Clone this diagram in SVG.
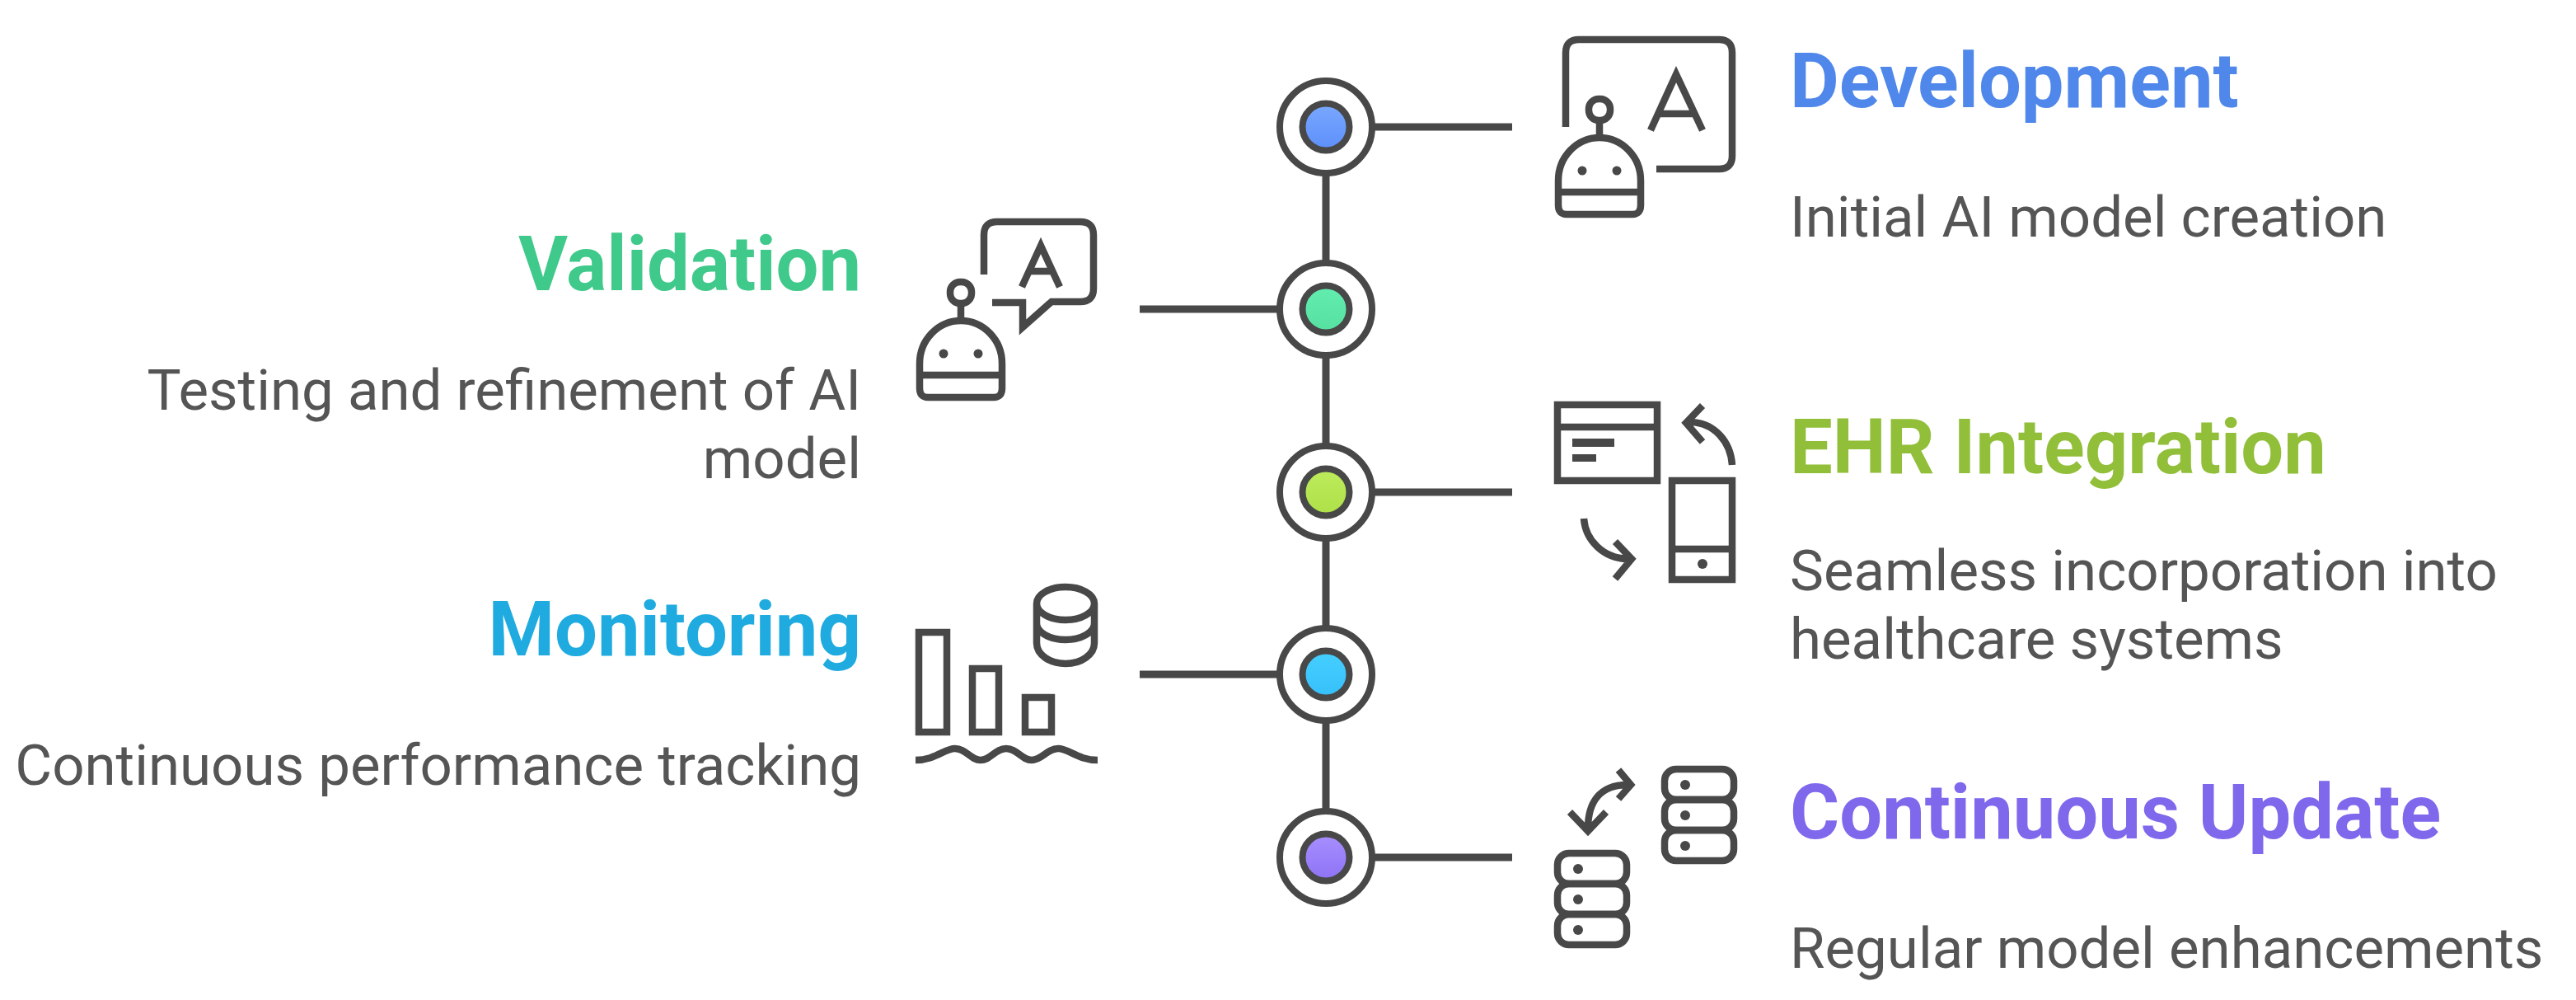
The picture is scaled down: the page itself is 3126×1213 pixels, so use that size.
<svg xmlns="http://www.w3.org/2000/svg" width="3126" height="1213" viewBox="0 0 3126 1213">
<style>
.l{fill:none;stroke:#484848;stroke-width:8.5}
.c{stroke:#484848;stroke-width:9;fill:none}
.ring{fill:#fff;stroke:#484848;stroke-width:8}
.dot{stroke:#484848;stroke-width:8}
.d{fill:#484848}
.t{font-family:Roboto,"Liberation Sans",sans-serif;font-weight:700;font-size:92px}
.b{font-family:Roboto,"Liberation Sans",sans-serif;font-weight:400;font-size:69px;fill:#555}
.e{text-anchor:end}
</style>
<defs>
<linearGradient id="g1" x1="0" y1="0" x2="0" y2="1"><stop offset="0" stop-color="#7aa8ff"/><stop offset="1" stop-color="#5c8ffa"/></linearGradient>
<linearGradient id="g2" x1="0" y1="0" x2="0" y2="1"><stop offset="0" stop-color="#62eeb0"/><stop offset="1" stop-color="#56e0a0"/></linearGradient>
<linearGradient id="g3" x1="0" y1="0" x2="0" y2="1"><stop offset="0" stop-color="#bdec5c"/><stop offset="1" stop-color="#aee048"/></linearGradient>
<linearGradient id="g4" x1="0" y1="0" x2="0" y2="1"><stop offset="0" stop-color="#45cfff"/><stop offset="1" stop-color="#36c0fa"/></linearGradient>
<linearGradient id="g5" x1="0" y1="0" x2="0" y2="1"><stop offset="0" stop-color="#a78fff"/><stop offset="1" stop-color="#8e72f5"/></linearGradient>
<g id="robot">
<rect class="l" x="-13" y="-13" width="26" height="26" rx="12"/>
<path class="l" d="M0 13V34"/>
<path class="l" d="M-50 116V86A50 52 0 0 1 50 86V116Q50 127 40 127H-40Q-50 127-50 116Z"/>
<path class="l" d="M-50 100H50"/>
<circle class="d" cx="-21" cy="74" r="5.5"/><circle class="d" cx="21" cy="74" r="5.5"/>
</g>
<g id="stack">
<rect class="l" x="0" y="0" width="84" height="37" rx="14"/>
<rect class="l" x="0" y="37" width="84" height="37" rx="14"/>
<rect class="l" x="0" y="74" width="84" height="37" rx="14"/>
<circle class="d" cx="25" cy="19" r="6"/><circle class="d" cx="25" cy="56" r="6"/><circle class="d" cx="25" cy="93" r="6"/>
</g>
</defs>
<rect width="3126" height="1213" fill="#fff"/>
<g id="connectors">
<path class="c" d="M1609 154V1040"/>
<path class="c" d="M1609 154H1835"/>
<path class="c" d="M1383 375H1609"/>
<path class="c" d="M1609 597H1835"/>
<path class="c" d="M1383 818H1609"/>
<path class="c" d="M1609 1040H1835"/>
</g>
<g id="node-development">
<circle class="ring" cx="1609" cy="154" r="56"/><circle class="dot" cx="1609" cy="154" r="28.5" fill="url(#g1)"/>
<path class="l" d="M1900 154V64Q1900 48 1916 48H2086Q2102 48 2102 64V189Q2102 205 2086 205H2010"/>
<path class="l" d="M2003 158L2034 90L2066 158M2014 138H2056"/>
<use href="#robot" x="1941" y="133"/>
<text class="t" x="2172" y="130" fill="#4f87ea">Development</text>
<text class="b" x="2172" y="287">Initial AI model creation</text>
</g>
<g id="node-validation">
<circle class="ring" cx="1609" cy="375" r="56"/><circle class="dot" cx="1609" cy="375" r="28.5" fill="url(#g2)"/>
<path class="l" d="M1194 333V285Q1194 269 1210 269H1311Q1327 269 1327 285V350Q1327 366 1311 366H1276L1241 397V367H1204"/>
<path class="l" d="M1240 348L1263 298L1286 348M1246 329H1280"/>
<use href="#robot" x="1166" y="355"/>
<text class="t e" x="1045" y="352" fill="#3fc98a">Validation</text>
<text class="b e" x="1045" y="497">Testing and refinement of AI</text>
<text class="b e" x="1045" y="580">model</text>
</g>
<g id="node-ehr">
<circle class="ring" cx="1609" cy="597" r="56"/><circle class="dot" cx="1609" cy="597" r="28.5" fill="url(#g3)"/>
<rect class="l" x="1890" y="491" width="121" height="92"/>
<path class="l" d="M1890 518H2011"/>
<rect class="d" x="1908" y="532" width="51" height="10"/><rect class="d" x="1908" y="551" width="29" height="9"/>
<rect class="l" x="2029" y="583" width="73" height="120"/>
<path class="l" d="M2029 666H2102"/>
<circle class="d" cx="2066" cy="684" r="6"/>
<path class="l" d="M2102 564C2100 535 2080 513 2052 512M2066 492L2046 513L2066 536"/>
<path class="l" d="M1922 629C1924 655 1945 677 1975 678M1960 657L1980 678L1960 702"/>
<text class="t" x="2172" y="574" fill="#92bf3a">EHR Integration</text>
<text class="b" x="2172" y="716">Seamless incorporation into</text>
<text class="b" x="2172" y="799">healthcare systems</text>
</g>
<g id="node-monitoring">
<circle class="ring" cx="1609" cy="818" r="56"/><circle class="dot" cx="1609" cy="818" r="28.5" fill="url(#g4)"/>
<rect class="l" x="1115" y="767" width="34" height="121"/>
<rect class="l" x="1180" y="811" width="32" height="77"/>
<rect class="l" x="1244" y="846" width="32" height="42"/>
<path class="l" d="M1111 922C1135 922 1146 908 1159 908C1172 908 1178 922 1190 922C1202 922 1208 908 1221 908C1234 908 1240 922 1252 922C1264 922 1271 908 1284 908C1297 908 1308 922 1332 922"/>
<path class="l" d="M1258 732A35 20 0 0 1 1328 732V780A35 25 0 0 1 1258 780ZM1258 732A35 20 0 0 0 1328 732M1258 756A35 20 0 0 0 1328 756"/>
<text class="t e" x="1045" y="795" fill="#1fabdf">Monitoring</text>
<text class="b e" x="1045" y="952">Continuous performance tracking</text>
</g>
<g id="node-update">
<circle class="ring" cx="1609" cy="1040" r="56"/><circle class="dot" cx="1609" cy="1040" r="28.5" fill="url(#g5)"/>
<use href="#stack" x="2020" y="933"/>
<use href="#stack" x="1890" y="1035"/>
<path class="l" d="M1927 1005C1927 975 1940 952 1975 952M1905 985L1927 1008L1949 985M1964 934L1979 952L1964 969"/>
<text class="t" x="2172" y="1017" fill="#8068ec">Continuous Update</text>
<text class="b" x="2172" y="1174">Regular model enhancements</text>
</g>
</svg>
